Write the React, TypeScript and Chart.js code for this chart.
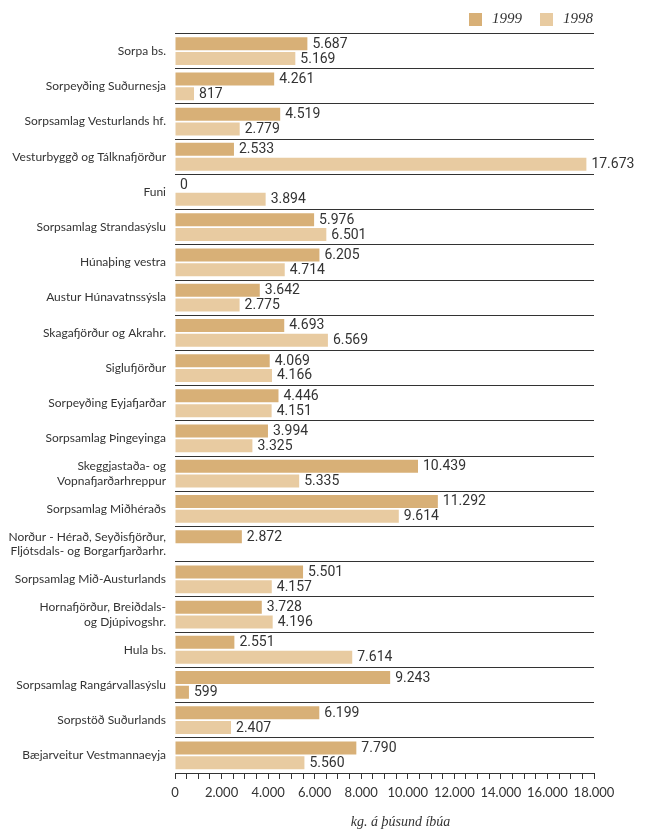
import React, { useEffect, useRef } from "react";
import { Chart, registerables } from "chart.js";

Chart.register(...registerables);

const categories: (string | string[])[] = [
  "Sorpa bs.",
  "Sorpeyðing Suðurnesja",
  "Sorpsamlag Vesturlands hf.",
  "Vesturbyggð og Tálknafjörður",
  "Funi",
  "Sorpsamlag Strandasýslu",
  "Húnaþing vestra",
  "Austur Húnavatnssýsla",
  "Skagafjörður og Akrahr.",
  "Siglufjörður",
  "Sorpeyðing Eyjafjarðar",
  "Sorpsamlag Þingeyinga",
  ["Skeggjastaða- og", "Vopnafjarðarhreppur"],
  "Sorpsamlag Miðhéraðs",
  ["Norður - Hérað, Seyðisfjörður,", "Fljótsdals- og Borgarfjarðarhr."],
  "Sorpsamlag Mið-Austurlands",
  ["Hornafjörður, Breiðdals-", "og Djúpivogshr."],
  "Hula bs.",
  "Sorpsamlag Rangárvallasýslu",
  "Sorpstöð Suðurlands",
  "Bæjarveitur Vestmannaeyja",
];

const values1999: (number | null)[] = [
  5687, 4261, 4519, 2533, 0, 5976, 6205, 3642, 4693, 4069, 4446, 3994, 10439,
  11292, 2872, 5501, 3728, 2551, 9243, 6199, 7790,
];

const values1998: (number | null)[] = [
  5169, 817, 2779, 17673, 3894, 6501, 4714, 2775, 6569, 4166, 4151, 3325, 5335,
  9614, null, 4157, 4196, 7614, 599, 2407, 5560,
];

const seriesNames = ["1999", "1998"];
const seriesColors = ["#D8B077", "#E8CBA1"];
// in the reference, the 1998 bar of "Sorpsamlag Rangárvallasýslu" is drawn in the 1999 colour
const darkIn1998 = ["Sorpsamlag Rangárvallasýslu"];
const xMin = 0;
const xMax = 18000;
const minorStep = 500;
const labelStep = 2000;
const axisTitle = "kg. á þúsund íbúa";

const fmt = (n: number) =>
  String(n).replace(/\B(?=(\d{3})+(?!\d))/g, ".");

const colors1998 = categories.map((c) =>
  typeof c === "string" && darkIn1998.includes(c) ? seriesColors[0] : seriesColors[1]
);

const valueLabels = {
  id: "valueLabels",
  afterDatasetsDraw(chart: any) {
    const ctx = chart.ctx;
    ctx.save();
    ctx.font = "14px Roboto";
    ctx.fillStyle = "#333";
    ctx.textBaseline = "middle";
    ctx.textAlign = "left";
    chart.data.datasets.forEach((ds: any, di: number) => {
      const meta = chart.getDatasetMeta(di);
      meta.data.forEach((bar: any, i: number) => {
        const v = ds.data[i];
        if (v === null || v === undefined) return;
        ctx.fillText(fmt(v), bar.x + 5, bar.y + 0.5);
      });
    });
    ctx.restore();
  },
};

const legendAndTitle = {
  id: "legendAndTitle",
  afterDraw(chart: any) {
    const ctx = chart.ctx;
    const area = chart.chartArea;
    ctx.save();
    const box = 13;
    const itemStarts = [area.right - 125, area.right - 54];
    ctx.font = "italic 15px 'Liberation Serif'";
    ctx.textBaseline = "middle";
    ctx.textAlign = "left";
    chart.data.datasets.forEach((ds: any, i: number) => {
      const x = itemStarts[i];
      ctx.fillStyle = seriesColors[i];
      ctx.fillRect(x, 13, box, box);
      ctx.fillStyle = "#333";
      ctx.fillText(ds.label, x + box + 10, 19.5);
    });
    ctx.font = "italic 14px 'Liberation Serif'";
    ctx.textAlign = "center";
    ctx.fillStyle = "#333";
    ctx.fillText(axisTitle, (area.left + area.right) / 2 + 16, 822);
    ctx.restore();
  },
};

export default function App() {
  const ref = useRef<HTMLCanvasElement>(null);
  useEffect(() => {
    if (!ref.current) return;
    const chart = new Chart(ref.current, {
      type: "bar",
      data: {
        labels: categories,
        datasets: [
          {
            label: seriesNames[0],
            data: values1999,
            backgroundColor: seriesColors[0],
            categoryPercentage: 0.84,
            barPercentage: 0.88,
          },
          {
            label: seriesNames[1],
            data: values1998,
            backgroundColor: colors1998,
            categoryPercentage: 0.84,
            barPercentage: 0.88,
          },
        ],
      },
      options: {
        indexAxis: "y",
        responsive: false,
        animation: false,
        layout: { padding: { left: 0, right: 56, top: 33.5, bottom: 0 } },
        plugins: {
          legend: { display: false },
          tooltip: { enabled: false },
        },
        scales: {
          x: {
            type: "linear",
            min: xMin,
            max: xMax,
            afterFit: (s: any) => {
              s.height = 58;
            },
            afterBuildTicks: (s: any) => {
              const t = [];
              for (let v = xMin; v <= xMax; v += minorStep) t.push({ value: v });
              s.ticks = t;
            },
            ticks: {
              autoSkip: false,
              maxRotation: 0,
              padding: 6,
              color: "#333",
              font: { family: "Lato", size: 13 },
              callback: (v: any) => (v % labelStep === 0 ? fmt(v) : ""),
            },
            grid: {
              drawOnChartArea: false,
              drawTicks: true,
              tickLength: 6,
              color: "#333",
              lineWidth: 1,
            },
            border: { display: true, color: "#333", width: 1 },
          },
          y: {
            afterFit: (s: any) => {
              s.width = 175;
            },
            ticks: {
              padding: 9,
              color: "#333",
              font: { family: "Lato", size: 12 },
              autoSkip: false,
            },
            grid: {
              offset: true,
              drawTicks: false,
              color: "#333",
              lineWidth: 1,
            },
            border: { display: false },
          },
        },
      },
      plugins: [valueLabels, legendAndTitle],
    });
    return () => chart.destroy();
  }, []);
  return (
    <div style={{ position: "absolute", left: 0, top: 0, width: 650, height: 831 }}>
      <canvas ref={ref} width={650} height={831} />
    </div>
  );
}
